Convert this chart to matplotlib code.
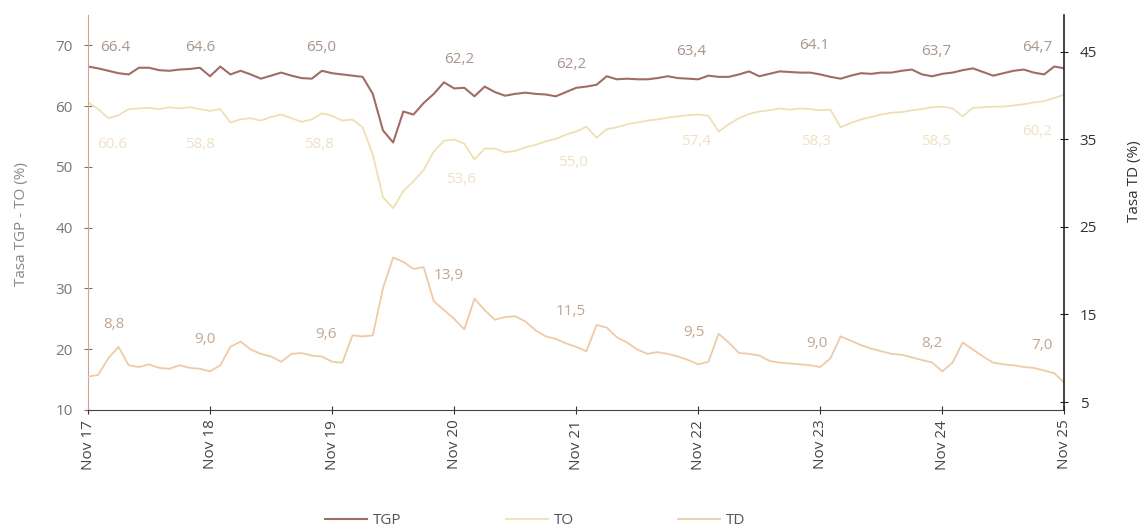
import matplotlib.pyplot as plt

plt.rcParams['font.family'] = ['Open Sans', 'DejaVu Sans']

# monthly series, Nov 2017 .. Nov 2025 (97 points)
tgp = [66.5, 66.2, 65.8, 65.4, 65.2, 66.3, 66.3, 65.9, 65.8, 66.0,
       66.1, 66.3, 64.9, 66.5, 65.2, 65.8, 65.2, 64.5, 65.0, 65.5,
       65.0, 64.6, 64.5, 65.8, 65.4, 65.2, 65.0, 64.8, 62.0, 56.0,
       54.0, 59.1, 58.6, 60.5, 62.0, 63.9, 62.9, 63.0, 61.6, 63.2,
       62.3, 61.7, 62.0, 62.2, 62.0, 61.9, 61.6, 62.3, 63.0, 63.2,
       63.5, 64.9, 64.4, 64.5, 64.4, 64.4, 64.6, 64.9, 64.6, 64.5,
       64.4, 65.0, 64.8, 64.8, 65.2, 65.7, 64.9, 65.3, 65.7, 65.6,
       65.5, 65.5, 65.2, 64.8, 64.5, 65.0, 65.4, 65.3, 65.5, 65.5,
       65.8, 66.0, 65.2, 64.9, 65.3, 65.5, 65.9, 66.2, 65.6, 65.0,
       65.4, 65.8, 66.0, 65.5, 65.2, 66.5, 66.2]
to = [60.6, 59.5, 58.0, 58.5, 59.5, 59.6, 59.7, 59.5, 59.8, 59.6,
      59.8, 59.5, 59.2, 59.5, 57.3, 57.8, 58.0, 57.6, 58.2, 58.6,
      58.0, 57.4, 57.8, 58.8, 58.4, 57.6, 57.8, 56.5, 52.0, 45.0,
      43.2, 46.0, 47.6, 49.5, 52.5, 54.3, 54.5, 53.8, 51.2, 53.0,
      53.0, 52.4, 52.6, 53.2, 53.6, 54.2, 54.6, 55.3, 55.8, 56.6,
      54.8, 56.2, 56.5, 57.0, 57.3, 57.6, 57.8, 58.1, 58.3, 58.5,
      58.6, 58.4, 55.8, 57.0, 58.0, 58.7, 59.1, 59.3, 59.6, 59.4,
      59.6, 59.5, 59.3, 59.4, 56.5, 57.2, 57.8, 58.2, 58.6, 58.9,
      59.0, 59.3, 59.5, 59.8, 59.9, 59.6, 58.3, 59.7, 59.8, 59.9,
      59.9, 60.1, 60.3, 60.6, 60.8, 61.3, 61.9]
td = [7.9, 8.1, 10.0, 11.3, 9.2, 9.0, 9.3, 8.9, 8.8, 9.2,
      8.9, 8.8, 8.5, 9.2, 11.3, 11.9, 11.0, 10.5, 10.2, 9.6,
      10.5, 10.6, 10.3, 10.2, 9.6, 9.5, 12.6, 12.5, 12.6, 18.0,
      21.5, 21.0, 20.2, 20.4, 16.5, 15.5, 14.5, 13.3, 16.8, 15.5,
      14.4, 14.7, 14.8, 14.2, 13.2, 12.5, 12.2, 11.7, 11.3, 10.8,
      13.8, 13.5, 12.4, 11.8, 11.0, 10.5, 10.7, 10.5, 10.2, 9.8,
      9.3, 9.6, 12.8, 11.8, 10.6, 10.5, 10.3, 9.7, 9.5, 9.4,
      9.3, 9.2, 9.0, 10.0, 12.5, 12.0, 11.5, 11.1, 10.8, 10.5,
      10.4, 10.1, 9.8, 9.5, 8.5, 9.5, 11.8, 11.0, 10.2, 9.5,
      9.3, 9.2, 9.0, 8.9, 8.6, 8.3, 7.2]
months = list(range(len(tgp)))

tick_labels = ["Nov 17", "Nov 18", "Nov 19", "Nov 20", "Nov 21",
               "Nov 22", "Nov 23", "Nov 24", "Nov 25"]

tgp_labels = ["66.4", "64.6", "65,0", "62,2", "62,2", "63,4", "64.1", "63,7", "64,7"]
to_labels = ["60.6", "58,8", "58,8", "53,6", "55,0", "57,4", "58,3", "58,5", "60,2"]
td_labels = ["8,8", "9,0", "9,6", "13,9", "11,5", "9,5", "9,0", "8,2", "7,0"]

# where the value labels sit (month, axis value)
tgp_lab_x = [2.7, 11.0, 22.9, 36.5, 47.5, 59.3, 71.4, 83.4, 93.3]
tgp_lab_y = [69.7, 69.7, 69.7, 67.7, 66.8, 68.9, 69.9, 69.0, 69.7]
to_lab_x = [2.4, 11.0, 22.7, 36.7, 47.7, 59.8, 71.6, 83.4, 93.3]
to_lab_y = [53.7, 53.7, 53.7, 47.9, 50.7, 54.1, 54.1, 54.1, 55.8]
td_lab_x = [2.5, 11.5, 23.4, 35.5, 47.5, 59.6, 71.7, 83.0, 93.8]
td_lab_y = [13.8, 12.1, 12.7, 19.5, 15.3, 12.9, 11.7, 11.7, 11.5]

c_tgp = "#a06d62"
c_to = "#eee0b4"
c_td = "#eecba6"

fig = plt.figure(figsize=(11.46, 5.31), dpi=100)
ax = fig.add_axes([0.0768, 0.228, 0.852, 0.744])
ax2 = ax.twinx()

l1, = ax.plot(months, tgp, color=c_tgp, lw=1.5, label="TGP")
l2, = ax.plot(months, to, color=c_to, lw=1.3, label="TO")
l3, = ax2.plot(months, td, color=c_td, lw=1.3, label="TD")

ax.set_xlim(0, 96)
ax.set_ylim(10, 75)
ax2.set_ylim(4.1, 49.2)
ax.set_yticks(range(10, 71, 10))
ax2.set_yticks(range(5, 46, 10))
ax.set_xticks(range(0, 97, 12))
ax.set_xticklabels(tick_labels, rotation=90, fontsize=11, color="#444444")

ax.tick_params(axis="y", direction="inout", length=6, labelsize=11,
               labelcolor="#777777", colors="#8a7060", pad=8)
ax.tick_params(axis="x", direction="inout", length=6, colors="#333333",
               labelcolor="#444444", pad=4)
ax2.tick_params(axis="y", direction="inout", length=6, labelsize=11,
                labelcolor="#333333", colors="#222222", pad=8)

for a in (ax, ax2):
    a.spines["top"].set_visible(False)
ax.spines["left"].set_color("#caa595")
ax.spines["bottom"].set_color("#444444")
ax.spines["right"].set_visible(False)
ax2.spines["left"].set_visible(False)
ax2.spines["bottom"].set_visible(False)
ax2.spines["right"].set_color("#222222")
ax2.spines["right"].set_linewidth(1.2)

ax.set_ylabel("Tasa TGP - TO (%)", fontsize=11, color="#888888")
ax.yaxis.set_label_coords(-0.06, 0.47)
ax2.set_ylabel("Tasa TD (%)", fontsize=11, color="#333333")
ax2.yaxis.set_label_coords(1.064, 0.58)

for t, x, y in zip(tgp_labels, tgp_lab_x, tgp_lab_y):
    ax.text(x, y, t, ha="center", va="center", fontsize=11, color="#a8958c")
for t, x, y in zip(to_labels, to_lab_x, to_lab_y):
    ax.text(x, y, t, ha="center", va="center", fontsize=11, color="#efe2c4")
for t, x, y in zip(td_labels, td_lab_x, td_lab_y):
    ax2.text(x, y, t, ha="center", va="center", fontsize=11, color="#c4a590")

fig.legend(handles=[l1, l2, l3], loc="lower center", bbox_to_anchor=(0.467, -0.02),
           ncol=3, frameon=False, handlelength=2.75, handletextpad=0.4,
           columnspacing=6.8, fontsize=11, labelcolor="#555555")

fig.savefig("out.png", dpi=100)
